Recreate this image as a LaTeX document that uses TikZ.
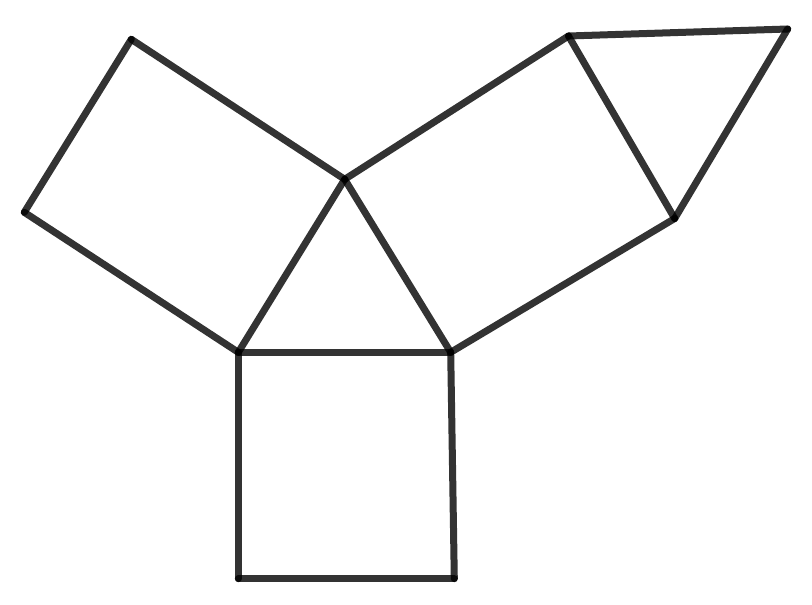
\documentclass[tikz,border=0pt]{standalone}
\begin{document}
\begin{tikzpicture}[x=1pt,y=-1pt,
  edge/.style={draw=black,draw opacity=0.8,line width=7pt,line cap=round}]
\useasboundingbox (0,0) rectangle (812,605);
\coordinate (A) at (344.7,179.3);
\coordinate (B) at (238.3,352.3);
\coordinate (C) at (450.7,352.3);
\coordinate (D) at (238.3,578.7);
\coordinate (E) at (454.3,578.7);
\coordinate (L1) at (131.3,39.3);
\coordinate (L2) at (24.3,212.3);
\coordinate (R1) at (568.5,36);
\coordinate (R2) at (674.7,218.5);
\coordinate (T) at (787.7,29);
% triangle
\draw[edge] (A) -- (B);
\draw[edge] (B) -- (C);
\draw[edge] (C) -- (A);
% bottom square
\draw[edge] (B) -- (D);
\draw[edge] (D) -- (E);
\draw[edge] (E) -- (C);
% left square
\draw[edge] (A) -- (L1);
\draw[edge] (L1) -- (L2);
\draw[edge] (L2) -- (B);
% right rectangle
\draw[edge] (A) -- (R1);
\draw[edge] (R1) -- (R2);
\draw[edge] (R2) -- (C);
% small triangle
\draw[edge] (R1) -- (T);
\draw[edge] (T) -- (R2);
\end{tikzpicture}
\end{document}
